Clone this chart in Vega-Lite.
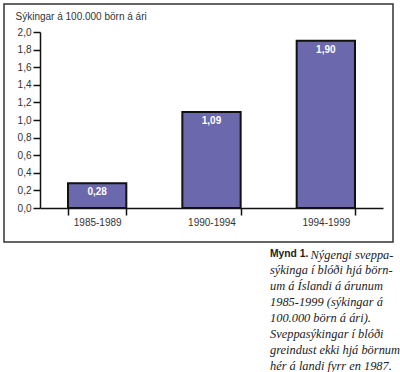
{
  "$schema": "https://vega.github.io/schema/vega-lite/v6.json",
  "width": 389,
  "height": 238,
  "autosize": "none",
  "padding": {"left": 4, "top": 4, "right": 7, "bottom": 130},
  "background": "white",
  "config": {
    "locale": {"number": {"decimal": ",", "thousands": ".", "grouping": [3], "currency": ["", ""]}},
    "view": {"stroke": "#333333", "strokeWidth": 1.5},
    "font": "Liberation Sans"
  },
  "title": {
    "text": "Mynd 1.",
    "subtitle": [
      "sýkinga í blóði hjá börn-",
      "um á Íslandi á árunum",
      "1985-1999 (sýkingar á",
      "100.000 börn á ári).",
      "Sveppasýkingar í blóði",
      "greindust ekki hjá börnum",
      "hér á landi fyrr en 1987."
    ],
    "orient": "bottom",
    "anchor": "start",
    "frame": "group",
    "dx": 266,
    "offset": -11,
    "font": "Liberation Sans",
    "fontSize": 10.3,
    "fontWeight": "bold",
    "color": "#222222",
    "subtitleFont": "Liberation Serif",
    "subtitleFontSize": 12.4,
    "subtitleFontStyle": "italic",
    "subtitleColor": "#222222",
    "subtitleLineHeight": 15.9,
    "subtitlePadding": 4.5
  },
  "data": {
    "values": [
      {"period": "1985-1989", "value": 0.28},
      {"period": "1990-1994", "value": 1.09},
      {"period": "1994-1999", "value": 1.90}
    ]
  },
  "encoding": {
    "x": {
      "field": "period",
      "type": "nominal",
      "sort": null,
      "scale": {"range": [36, 379], "paddingInner": 0.49, "paddingOuter": 0.245},
      "axis": {
        "title": "Nýgengi sveppa-",
        "titleFont": "Liberation Serif",
        "titleFontSize": 12.4,
        "titleFontStyle": "italic",
        "titleFontWeight": "normal",
        "titleColor": "#222222",
        "titleAlign": "left",
        "titleAnchor": null,
        "titleBaseline": "alphabetic",
        "titleX": 306,
        "titleY": 50,
        "labelAngle": 0,
        "offset": -34,
        "tickBand": "extent",
        "tickSize": 7,
        "tickWidth": 1.5,
        "tickColor": "#111111",
        "domainColor": "#111111",
        "domainWidth": 1.5,
        "labelFontSize": 10,
        "labelColor": "#333333",
        "labelPadding": 2
      }
    },
    "y": {
      "field": "value",
      "type": "quantitative",
      "scale": {"domain": [0, 2], "range": [204, 28], "nice": false, "zero": true},
      "axis": {
        "title": "Sýkingar á 100.000 börn á ári",
        "titleAngle": 0,
        "titleAlign": "left",
        "titleBaseline": "middle",
        "titleX": -25,
        "titleY": 12,
        "titleFontSize": 10,
        "titleFontWeight": "normal",
        "titleColor": "#333333",
        "offset": -36,
        "values": [0, 0.2, 0.4, 0.6, 0.8, 1.0, 1.2, 1.4, 1.6, 1.8, 2.0],
        "format": ".1f",
        "grid": false,
        "tickSize": 7,
        "tickWidth": 1.5,
        "tickColor": "#111111",
        "domainColor": "#111111",
        "domainWidth": 1.5,
        "labelFontSize": 10,
        "labelColor": "#333333",
        "labelPadding": 2
      }
    }
  },
  "layer": [
    {
      "mark": {"type": "bar", "fill": "#6c68ae", "stroke": "#111111", "strokeWidth": 2}
    },
    {
      "mark": {"type": "text", "baseline": "middle", "dy": 9, "color": "white", "fontWeight": "bold", "fontSize": 10},
      "encoding": {
        "text": {"field": "value", "type": "quantitative", "format": ".2f"}
      }
    }
  ]
}
